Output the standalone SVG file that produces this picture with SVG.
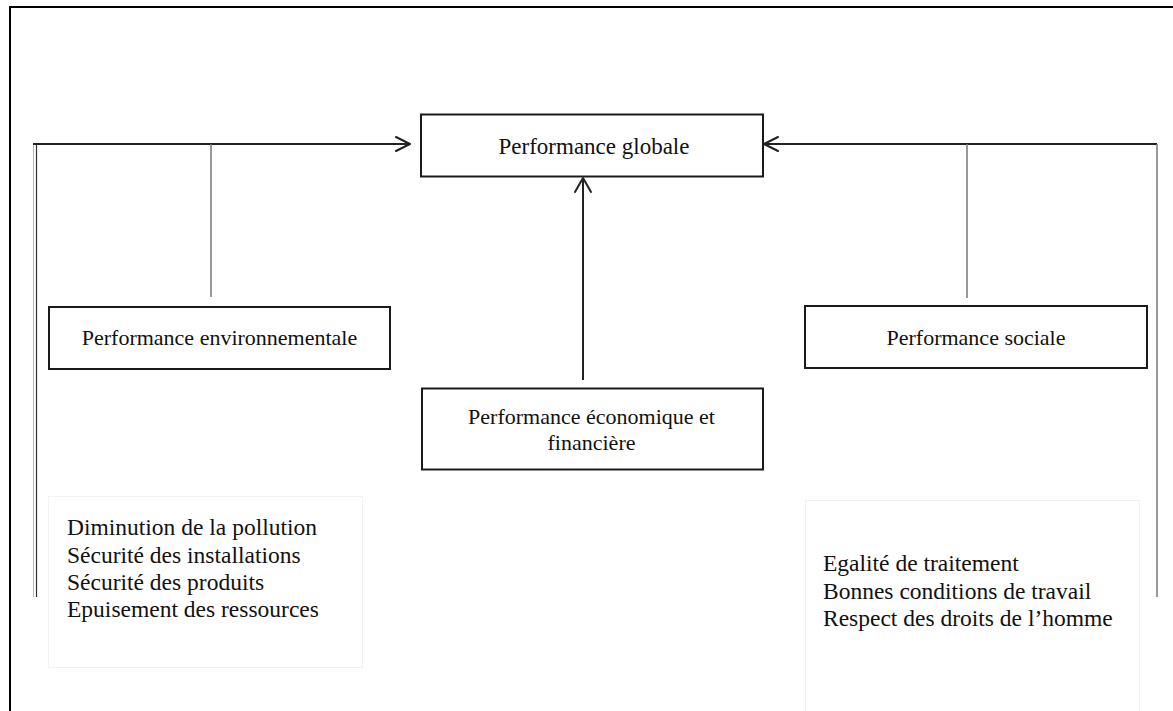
<svg xmlns="http://www.w3.org/2000/svg" width="1173" height="711" viewBox="0 0 1173 711">
  <style>
    .frame { fill: none; stroke: #000; stroke-width: 2; }
    .box { fill: #fff; stroke: #1a1a1a; stroke-width: 2; }
    .panel { fill: #fff; stroke: #f3f3f3; stroke-width: 1; }
    .label { font-family: "Liberation Serif", "Times New Roman", serif; font-size: 22px; fill: #111; text-anchor: middle; }
    .item { font-family: "Liberation Serif", "Times New Roman", serif; font-size: 23.5px; fill: #111; }
    .link { fill: none; stroke: #222; stroke-width: 2; }
    .drop { fill: none; stroke: #777; stroke-width: 1.5; }
    .head { fill: none; stroke: #222; stroke-width: 2; stroke-linecap: round; stroke-linejoin: round; }
  </style>

  <rect width="1173" height="711" fill="#fff"/>
  <!-- outer frame, open to the right and bottom -->
  <path class="frame" d="M10,720 V7 H1180"/>

  <!-- list panels -->
  <g id="env-criteria">
    <rect class="panel" x="48.5" y="496.5" width="314" height="171"/>
    <text class="item" x="67" y="535">Diminution de la pollution</text>
    <text class="item" x="67" y="562.5">Sécurité des installations</text>
    <text class="item" x="67" y="590">Sécurité des produits</text>
    <text class="item" x="67" y="617">Epuisement des ressources</text>
  </g>
  <g id="social-criteria">
    <rect class="panel" x="805.5" y="500.5" width="334" height="220"/>
    <text class="item" x="823" y="571">Egalité de traitement</text>
    <text class="item" x="823" y="598.5">Bonnes conditions de travail</text>
    <text class="item" x="823" y="626">Respect des droits de l’homme</text>
  </g>

  <!-- connectors -->
  <g id="connectors">
    <!-- left branch -->
    <line x1="33.5" y1="144" x2="33.5" y2="597" stroke="#bbb" stroke-width="1"/>
    <line x1="36.5" y1="144" x2="36.5" y2="597" stroke="#333" stroke-width="1.2"/>
    <line class="link" x1="33" y1="144" x2="410" y2="144"/>
    <polyline class="head" points="396,137 410,144 396,151"/>
    <line class="drop" x1="211" y1="144" x2="211" y2="297"/>
    <!-- centre branch -->
    <line class="link" x1="583" y1="380" x2="583" y2="178"/>
    <polyline class="head" points="575,192 583,178 591,192"/>
    <!-- right branch -->
    <line class="link" x1="1157" y1="144" x2="764" y2="144"/>
    <polyline class="head" points="778,137 764,144 778,151"/>
    <line class="drop" x1="967" y1="144" x2="967" y2="298"/>
    <line class="drop" x1="1157" y1="144" x2="1157" y2="597"/>
  </g>

  <g id="global">
    <rect class="box" x="421" y="114.5" width="342" height="62"/>
    <text class="label" x="594" y="154" style="font-size:23px">Performance globale</text>
  </g>
  <g id="environmental">
    <rect class="box" x="49" y="307" width="341" height="62"/>
    <text class="label" x="219.5" y="345">Performance environnementale</text>
  </g>
  <g id="economic">
    <rect class="box" x="422" y="388.5" width="341" height="81"/>
    <text class="label" x="591.5" y="424">Performance économique et</text>
    <text class="label" x="591.5" y="449.5">financière</text>
  </g>
  <g id="social">
    <rect class="box" x="805" y="306" width="342" height="62"/>
    <text class="label" x="976" y="345">Performance sociale</text>
  </g>
</svg>
